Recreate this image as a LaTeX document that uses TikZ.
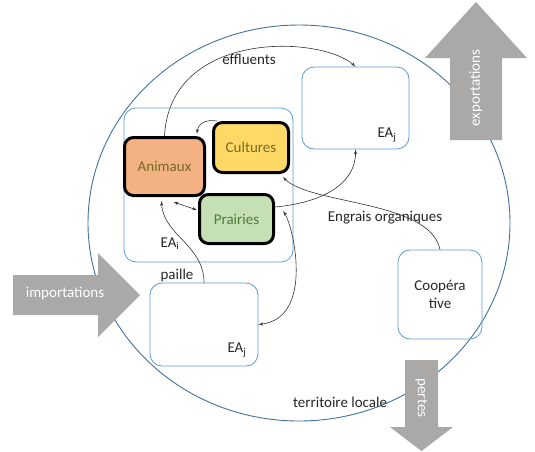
\documentclass[tikz,border=0pt]{standalone}
\usepackage{fontspec}
\setmainfont{Carlito}
\usetikzlibrary{shapes,arrows,calc}
\definecolor{boxblue}{HTML}{5B9BD5}
\definecolor{rimblue}{HTML}{41719C}
\definecolor{flowgray}{HTML}{ABA9A8}
\definecolor{olivetxt}{HTML}{756B22}
\definecolor{greentxt}{HTML}{4F7B3B}
\tikzstyle{line} = [draw=black!80, line width=0.6pt, -latex']
\tikzstyle{dline} = [draw=black!80, line width=0.6pt, latex'-latex']
\tikzstyle{farm} = [draw=boxblue, line width=0.8pt, rectangle, rounded corners=12pt]
\tikzstyle{unit} = [draw=black, line width=3pt, rectangle, rounded corners=9pt, text=olivetxt]
\tikzstyle{flow} = [fill=flowgray]
\tikzstyle{flowtext} = [text=white]

\begin{document}
\begin{tikzpicture}[x=1pt, y=-1pt, every node/.style={font=\fontsize{15}{17.5}\selectfont, text=black!85}]
        \useasboundingbox (0,0) rectangle (535,451);
        % local territory
        \draw[rimblue, line width=0.9pt] (299,223) ellipse [x radius=211, y radius=198];
        \node (terr) at (340,402) {territoire locale};
        % flows in and out
        \fill[flow] (476,2) -- (527,58) -- (502,58) -- (502,140) -- (450,140) -- (450,58) -- (425,58) -- cycle;
        \node[flowtext, rotate=90] (exp) at (476,88) {exportations};
        \fill[flow] (140,295) -- (98,337) -- (98,315) -- (13,315) -- (13,275) -- (98,275) -- (98,253) -- cycle;
        \node[flowtext] (imp) at (65,294) {importations};
        \fill[flow] (421.5,451) -- (453,427) -- (438,427) -- (438,360) -- (405,360) -- (405,427) -- (390,427) -- cycle;
        \node[flowtext, rotate=-90] (pert) at (421.5,398) {pertes};
        % farms
        \node[farm, minimum width=169pt, minimum height=154pt] (eai) at (208.5,185) {};
        \node (eailab) at (170,244) {EA\textsubscript{i}};
        \node[farm, minimum width=107pt, minimum height=82pt] (eaj1) at (355.5,108) {};
        \node (eaj1lab) at (387,135) {EA\textsubscript{j}};
        \node[farm, minimum width=108pt, minimum height=83pt] (eaj2) at (204,324.5) {};
        \node (eaj2lab) at (237,350) {EA\textsubscript{j}};
        \node[farm, minimum width=84pt, minimum height=89pt, align=center] (coop) at (440,294.5) {Coopéra\\tive};
        % units of farm i
        \node[unit, fill={rgb,255:red,244;green,177;blue,131}, minimum width=80pt, minimum height=58pt] (anim) at (164.5,166.5) {Animaux};
        \node[unit, fill={rgb,255:red,255;green,217;blue,102}, minimum width=75pt, minimum height=50pt] (cult) at (251,147.5) {Cultures};
        \node[unit, fill={rgb,255:red,197;green,224;blue,180}, minimum width=74pt, minimum height=49pt, text=greentxt] (prair) at (236.5,219) {Prairies};
        % exchanges
        \path[line] (anim.north) .. controls (170,30) and (320,35) .. (eaj1.north);
        \node (effl) at (249,59) {effluents};
        \path[line] ([xshift=5pt]cult.north west) .. controls (205,119) and (198,124) .. ([shift={(-9,-2)}]anim.north east);
        \path[dline] ([shift={(9,5)}]anim.south) -- ([shift={(-1,-9)}]prair.west);
        \path[line] (eaj2.north) .. controls (204,245) and (163,235) .. ([shift={(-3,4)}]anim.south);
        \node (pail) at (177,275) {paille};
        \path[line] ([shift={(0,-12)}]prair.east) .. controls (320,203) and (356,185) .. (eaj1.south);
        \path[line] (coop.north) .. controls (430,200) and (310,205) .. ([shift={(-7,3)}]cult.south east);
        \node (engr) at (385,218) {Engrais organiques};
        \path[dline] (eaj2.east) .. controls (315,318) and (293,225) .. ([shift={(8,-8)}]prair.east);
    \end{tikzpicture}
\end{document}
